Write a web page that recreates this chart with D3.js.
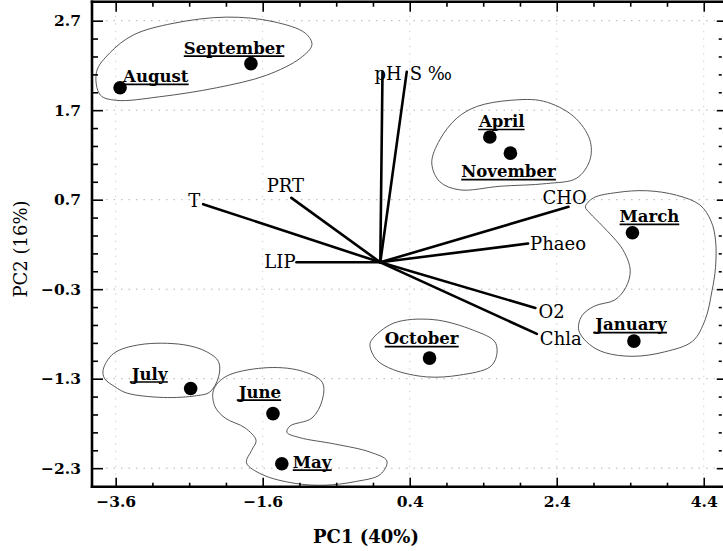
<!DOCTYPE html>
<html>
<head>
<meta charset="utf-8">
<script src="https://cdn.jsdelivr.net/npm/d3@7"></script>
<style>
  html, body { margin: 0; padding: 0; background: #fff; }
  svg { display: block; }
</style>
</head>
<body>
<svg id="chart" width="723" height="551"></svg>
<script>
// ---- PCA scores of the monthly samples ----
const months    = ["August", "September", "April", "November", "March", "January", "October", "July", "June", "May"];
const pc1Scores = [-3.54, -1.76, 1.49, 1.77, 3.43, 3.45, 0.67, -2.58, -1.46, -1.34];
const pc2Scores = [1.95, 2.22, 1.40, 1.22, 0.33, -0.88, -1.07, -1.41, -1.69, -2.25];

// ---- variable loadings (vectors from the origin) ----
const variables   = ["pH", "S ‰", "PRT", "T", "LIP", "CHO", "Phaeo", "O2", "Chla"];
const pc1Loadings = [0.03, 0.36, -1.21, -2.41, -1.14, 2.56, 2.01, 2.11, 2.13];
const pc2Loadings = [2.13, 2.13, 0.72, 0.65, 0.00, 0.62, 0.21, -0.51, -0.80];

// ---- axis ticks ----
const xTickValues = [-3.6, -1.6, 0.4, 2.4, 4.4];
const yTickValues = [2.7, 1.7, 0.7, -0.3, -1.3, -2.3];
const xTitle = "PC1 (40%)";
const yTitle = "PC2 (16%)";

// ---- hand-drawn group outlines (PC1, PC2) ----
const groupSummer = [[-3.86, 2.13], [-3.68, 2.34], [-3.36, 2.54], [-2.82, 2.67], [-2.09, 2.74], [-1.46, 2.69],
  [-1.02, 2.56], [-0.93, 2.43], [-1.09, 2.28], [-1.55, 2.09], [-2.23, 1.95], [-3.00, 1.85], [-3.59, 1.81], [-3.81, 1.87]];
const groupAprNov = [[1.31, 1.74], [1.77, 1.81], [2.22, 1.80], [2.63, 1.63], [2.85, 1.37], [2.85, 1.14],
  [2.67, 0.94], [2.26, 0.88], [1.63, 0.85], [1.08, 0.81], [0.81, 0.90], [0.70, 1.11], [0.81, 1.37], [1.04, 1.61]];
const groupWinter = [[2.79, 0.62], [2.90, 0.72], [3.22, 0.78], [3.62, 0.80], [4.03, 0.75], [4.35, 0.64],
  [4.50, 0.46], [4.56, 0.25], [4.56, -0.06], [4.51, -0.33], [4.42, -0.64], [4.25, -0.88], [3.87, -1.00],
  [3.44, -1.05], [3.06, -1.01], [2.85, -0.92], [2.70, -0.76], [2.74, -0.60], [2.91, -0.49], [3.19, -0.42],
  [3.34, -0.28], [3.40, -0.09], [3.30, 0.14], [3.03, 0.40], [2.85, 0.55]];
const groupOctober = [[-0.12, -0.87], [0.18, -0.68], [0.72, -0.64], [1.27, -0.76], [1.56, -0.89], [1.58, -1.05],
  [1.49, -1.17], [1.08, -1.26], [0.63, -1.28], [0.18, -1.20], [-0.05, -1.09], [-0.14, -0.94]];
const groupJuly = [[-3.77, -1.20], [-3.63, -1.02], [-3.27, -0.92], [-2.68, -0.92], [-2.36, -1.00], [-2.20, -1.11],
  [-2.20, -1.28], [-2.32, -1.45], [-2.50, -1.49], [-2.95, -1.51], [-3.45, -1.46], [-3.61, -1.39], [-3.75, -1.30]];
const groupMayJune = [[-2.27, -1.43], [-2.11, -1.28], [-1.59, -1.18], [-1.09, -1.21], [-0.79, -1.34], [-0.79, -1.54],
  [-0.93, -1.74], [-1.23, -1.83], [-1.27, -1.90], [-1.09, -1.96], [-0.62, -2.03], [-0.14, -2.12], [0.09, -2.22],
  [0.00, -2.37], [-0.34, -2.45], [-0.75, -2.49], [-1.16, -2.47], [-1.61, -2.37], [-1.82, -2.24], [-1.75, -2.10],
  [-1.69, -1.99], [-1.84, -1.85], [-2.11, -1.74], [-2.25, -1.61]];

// ---- layout ----
const W = 723, H = 551;
const plotLeft = 92, plotRight = 716.75, plotTop = 1.7, plotBottom = 486.7;
const serif = "'DejaVu Serif', 'Liberation Serif', serif";

const x = d3.scaleLinear().domain([-3.922, 4.577]).range([plotLeft, plotRight]);
const y = d3.scaleLinear().domain([-2.507, 2.912]).range([plotBottom, plotTop]);

const svg = d3.select("#chart");

// label placement for each month, relative to its point
const monthLabelPlace = {
  August:    { anchor: "start",  dx: 3,   dy: -6 },
  September: { anchor: "middle", dx: -17, dy: -10 },
  April:     { anchor: "middle", dx: 12,  dy: -10 },
  November:  { anchor: "middle", dx: -2,  dy: 24 },
  March:     { anchor: "middle", dx: 17,  dy: -11 },
  January:   { anchor: "middle", dx: -3,  dy: -11 },
  October:   { anchor: "middle", dx: -8,  dy: -14 },
  July:      { anchor: "middle", dx: -41, dy: -9 },
  June:      { anchor: "middle", dx: -13, dy: -16 },
  May:       { anchor: "start",  dx: 11,  dy: 4 }
};
// label placement for each vector, relative to its tip
const varLabelPlace = {
  "pH":    { anchor: "start",  dx: -8,  dy: 8 },
  "S ‰":   { anchor: "start",  dx: 3,   dy: 8 },
  "PRT":   { anchor: "middle", dx: -6,  dy: -6 },
  "T":     { anchor: "end",    dx: -3,  dy: 3 },
  "LIP":   { anchor: "end",    dx: -1,  dy: 6 },
  "CHO":   { anchor: "start",  dx: -26, dy: -3 },
  "Phaeo": { anchor: "start",  dx: 2,   dy: 6 },
  "O2":    { anchor: "start",  dx: 3,   dy: 10 },
  "Chla":  { anchor: "start",  dx: 3,   dy: 11 }
};

// ---- faint dotted grid at the major ticks ----
const grid = svg.append("g").attr("stroke", "#aaa").attr("stroke-width", 0.9)
  .attr("stroke-dasharray", "1.5,6").attr("fill", "none");
grid.selectAll("line.h").data(yTickValues).join("line").attr("class", "h")
  .attr("x1", plotLeft + 14).attr("x2", plotRight - 2)
  .attr("y1", d => y(d)).attr("y2", d => y(d));
grid.selectAll("line.v").data(xTickValues).join("line").attr("class", "v")
  .attr("stroke", "#ccc")
  .attr("x1", d => x(d)).attr("x2", d => x(d))
  .attr("y1", plotTop + 14).attr("y2", plotBottom - 10);

// ---- group outlines ----
const outline = d3.line().x(d => x(d[0])).y(d => y(d[1])).curve(d3.curveCatmullRomClosed.alpha(0.5));
svg.append("g").attr("fill", "none").attr("stroke", "#444").attr("stroke-width", 0.9)
  .selectAll("path")
  .data([groupSummer, groupAprNov, groupWinter, groupOctober, groupJuly, groupMayJune])
  .join("path").attr("d", outline);

// ---- loading vectors ----
const vars = variables.map((v, i) => ({ name: v, px: pc1Loadings[i], py: pc2Loadings[i] }));
svg.append("g").attr("stroke", "#000").attr("stroke-width", 2.6).attr("stroke-linecap", "round")
  .selectAll("line").data(vars).join("line")
  .attr("x1", x(0)).attr("y1", y(0))
  .attr("x2", d => x(d.px)).attr("y2", d => y(d.py));

svg.append("g").attr("font-family", serif).attr("font-size", 18).attr("fill", "#000")
  .selectAll("text").data(vars).join("text")
  .attr("x", d => x(d.px) + varLabelPlace[d.name].dx)
  .attr("y", d => y(d.py) + varLabelPlace[d.name].dy)
  .attr("text-anchor", d => varLabelPlace[d.name].anchor)
  .text(d => d.name);

// ---- sample points ----
const samples = months.map((m, i) => ({ name: m, px: pc1Scores[i], py: pc2Scores[i] }));
svg.append("g").attr("fill", "#000")
  .selectAll("circle").data(samples).join("circle")
  .attr("cx", d => x(d.px)).attr("cy", d => y(d.py)).attr("r", 6.8);

// month labels, bold and underlined
const mLabels = svg.append("g").attr("font-family", serif).attr("font-size", 16.5)
  .attr("font-weight", "bold").attr("fill", "#000");
samples.forEach(d => {
  const p = monthLabelPlace[d.name];
  const t = mLabels.append("text")
    .attr("x", x(d.px) + p.dx).attr("y", y(d.py) + p.dy)
    .attr("text-anchor", p.anchor).text(d.name);
  const bb = t.node().getBBox();
  mLabels.append("line")
    .attr("x1", bb.x).attr("x2", bb.x + bb.width)
    .attr("y1", y(d.py) + p.dy + 2.5).attr("y2", y(d.py) + p.dy + 2.5)
    .attr("stroke", "#000").attr("stroke-width", 1.7);
});

// ---- axes ----
const xMinor = d3.range(0, 17).map(i => +(-3.6 + 0.5 * i).toFixed(2)).filter(v => !xTickValues.includes(v));
const yMinor = d3.range(0, 26).map(i => +(-2.3 + 0.2 * i).toFixed(2)).filter(v => !yTickValues.includes(v));
const fmt = d3.format(".1f");

function styleAxis(g) {
  g.select(".domain").remove();
  g.selectAll(".tick line").attr("stroke", "#000").attr("stroke-width", 1.6);
  g.selectAll(".tick text").attr("font-family", serif).attr("font-size", 15.5)
    .attr("font-weight", "bold").attr("fill", "#000");
}

// bottom
svg.append("g").attr("transform", `translate(0,${plotBottom})`)
  .call(d3.axisBottom(x).tickValues(xTickValues).tickSize(-9).tickPadding(9.3).tickFormat(fmt))
  .call(styleAxis);
svg.append("g").attr("transform", `translate(0,${plotBottom})`)
  .call(d3.axisBottom(x).tickValues(xMinor).tickSize(-4).tickFormat(""))
  .call(styleAxis);
// top
svg.append("g").attr("transform", `translate(0,${plotTop})`)
  .call(d3.axisTop(x).tickValues(xTickValues).tickSize(-10).tickFormat(""))
  .call(styleAxis);
svg.append("g").attr("transform", `translate(0,${plotTop})`)
  .call(d3.axisTop(x).tickValues(xMinor).tickSize(-5).tickFormat(""))
  .call(styleAxis);
// left
svg.append("g").attr("transform", `translate(${plotLeft},0)`)
  .call(d3.axisLeft(y).tickValues(yTickValues).tickSize(-11).tickPadding(11).tickFormat(fmt))
  .call(styleAxis);
svg.append("g").attr("transform", `translate(${plotLeft},0)`)
  .call(d3.axisLeft(y).tickValues(yMinor).tickSize(-6).tickFormat(""))
  .call(styleAxis);
// right (outward ticks only)
svg.append("g").attr("transform", `translate(${plotRight},0)`)
  .call(d3.axisRight(y).tickValues(yTickValues).tickSize(7).tickFormat(""))
  .call(styleAxis);
svg.append("g").attr("transform", `translate(${plotRight + 2},0)`)
  .call(d3.axisRight(y).tickValues(yMinor).tickSize(3).tickFormat(""))
  .call(styleAxis);

// frame lines (left, bottom, top)
const frame = svg.append("g").attr("stroke", "#000").attr("stroke-width", 2.6).attr("stroke-linecap", "square");
frame.append("line").attr("x1", plotLeft).attr("x2", plotLeft).attr("y1", plotTop).attr("y2", plotBottom);
frame.append("line").attr("x1", plotLeft).attr("x2", W).attr("y1", plotBottom).attr("y2", plotBottom);
frame.append("line").attr("x1", plotLeft).attr("x2", W).attr("y1", plotTop).attr("y2", plotTop);

// axis titles
svg.append("text").attr("x", 366).attr("y", 543).attr("text-anchor", "middle")
  .attr("font-family", serif).attr("font-size", 18).attr("font-weight", "bold").text(xTitle);
svg.append("text").attr("transform", "translate(27,249) rotate(-90)").attr("text-anchor", "middle")
  .attr("font-family", serif).attr("font-size", 18).text(yTitle);
</script>
</body>
</html>
